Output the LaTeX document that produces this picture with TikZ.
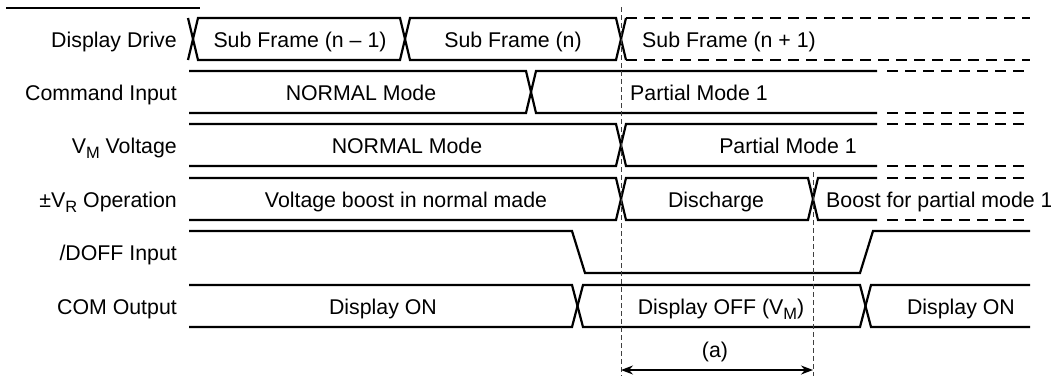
\documentclass[tikz,border=0pt]{standalone}
\usepackage{fontspec}
\setmainfont{Liberation Sans}
\usetikzlibrary{arrows.meta}
% lowered, smaller subscript letter for signal names
\newcommand\lowsub[1]{\raisebox{-0.28em}{\fontsize{16.5}{16.5}\selectfont #1}}

\begin{document}
\begin{tikzpicture}[x=1bp,y=-1bp,
  sig/.style={line width=2.2bp, line join=miter},
  sigdash/.style={line width=2.7bp, dash pattern=on 11bp off 7bp},
  guide/.style={line width=0.9bp, dash pattern=on 5bp off 3bp, black!75},
  lbl/.style={anchor=base east, inner sep=0, font=\fontsize{21.4}{25}\selectfont},
  txt/.style={anchor=base, inner sep=0, font=\fontsize{21.4}{25}\selectfont},
  txtl/.style={anchor=base west, inner sep=0, font=\fontsize{21.4}{25}\selectfont},
]
\useasboundingbox (0,0) rectangle (1051,376);

% header rule
\coordinate (r1) at (6,8);
\coordinate (r2) at (200,8);
\draw[line width=1.3bp] (r1) -- (r2);

% signal names
\node[lbl] (nDrive) at (177,47) {Display Drive};
\node[lbl] (nCmd)   at (177,100) {Command Input};
\node[lbl] (nVm)    at (177,153) {V\lowsub{M} Voltage};
\node[lbl] (nVr)    at (177,207) {±V\lowsub{R} Operation};
\node[lbl] (nDoff)  at (177,260) {/DOFF Input};
\node[lbl] (nCom)   at (177,314) {COM Output};

% Display Drive
\draw[sig] (188,18)--(198,60)--(400,60)--(410,18)--(616,18)--(626,60);
\draw[sig] (188,60)--(198,18)--(400,18)--(410,60)--(616,60)--(626,18);
\draw[sigdash] (626,18)--(1030,18);
\draw[sigdash] (626,60)--(1030,60);
\node[txt]  (d1) at (300,47) {Sub Frame (n – 1)};
\node[txt]  (d2) at (513,47) {Sub Frame (n)};
\node[txtl] (d3) at (642,47) {Sub Frame (n + 1)};

% Command Input
\draw[sig] (189,71)--(526,71)--(536,113)--(877,113);
\draw[sig] (189,113)--(526,113)--(536,71)--(877,71);
\draw[sigdash] (887,71)--(1030,71);
\draw[sigdash] (887,113)--(1030,113);
\node[txt]  (c1) at (361,100) {NORMAL Mode};
\node[txtl] (c2) at (630,100) {Partial Mode 1};

% VM Voltage
\draw[sig] (189,124)--(616,124)--(626,166)--(877,166);
\draw[sig] (189,166)--(616,166)--(626,124)--(877,124);
\draw[sigdash] (887,124)--(1030,124);
\draw[sigdash] (887,166)--(1030,166);
\node[txt] (v1) at (407,153) {NORMAL Mode};
\node[txt] (v2) at (788,153) {Partial Mode 1};

% VR Operation
\draw[sig] (189,178)--(616,178)--(626,220)--(808,220)--(818,178)--(877,178);
\draw[sig] (189,220)--(616,220)--(626,178)--(808,178)--(818,220)--(877,220);
\draw[sigdash] (887,178)--(1030,178);
\draw[sigdash] (887,220)--(1030,220);
\node[txt]  (o1) at (406,207) {Voltage boost in normal made};
\node[txt]  (o2) at (716,207) {Discharge};
\node[txtl] (o3) at (826,207) {Boost for partial mode 1};

% /DOFF Input
\draw[sig] (189,231)--(572,231)--(585,273)--(860,273)--(873,231)--(1030,231);

% COM Output
\draw[sig] (189,285)--(572,285)--(583,327)--(860,327)--(871,285)--(1030,285);
\draw[sig] (189,327)--(572,327)--(583,285)--(860,285)--(871,327)--(1030,327);
\node[txt] (m1) at (383,314) {Display ON};
\node[txt] (m2) at (721,314) {Display OFF (V\lowsub{M})};
\node[txt] (m3) at (961,314) {Display ON};

% timing guides and interval (a)
\coordinate (gaTop) at (621,7);
\coordinate (gaBot) at (621,376);
\coordinate (gbTop) at (813,172);
\coordinate (gbBot) at (813,376);
\draw[guide] (gaTop) -- (gaBot);
\draw[guide] (gbTop) -- (gbBot);
\coordinate (aL) at (621,370);
\coordinate (aR) at (813,370);
\draw[line width=1.3bp, {Stealth[length=12bp,width=9bp]}-{Stealth[length=12bp,width=9bp]}] (aL) -- (aR);
\node[txt] (alab) at (715,357) {(a)};
\end{tikzpicture}
\end{document}
